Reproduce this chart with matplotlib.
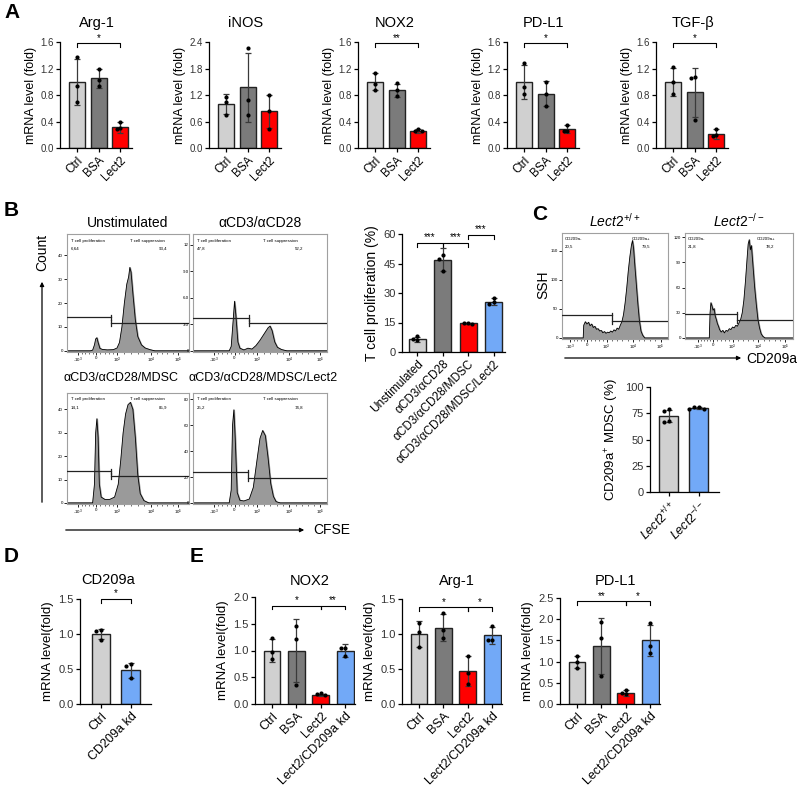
import matplotlib
matplotlib.use("Agg")
import matplotlib.pyplot as plt
import numpy as np

plt.rcParams["font.family"] = ["Liberation Sans", "DejaVu Sans"]
plt.rcParams["mathtext.fontset"] = "custom"
plt.rcParams["mathtext.rm"] = "Liberation Sans"
plt.rcParams["mathtext.it"] = "Liberation Sans:italic"
plt.rcParams["axes.linewidth"] = 0.9

W, H = 800, 794

GRAY_L = "#d0d0d0"
GRAY_D = "#7b7b7b"
RED = "#ff0000"
BLUE = "#72a9f7"

# ---------------- data: panel A ----------------
a_titles = ["Arg-1", "iNOS", "NOX2", "PD-L1", "TGF-β"]
a_groups = ["Ctrl", "BSA", "Lect2"]
a_means = [[1.00, 1.05, 0.31], [1.00, 1.37, 0.83], [1.00, 0.87, 0.25],
           [1.00, 0.82, 0.28], [1.00, 0.84, 0.21]]
a_sds = [[0.35, 0.14, 0.08], [0.22, 0.77, 0.37], [0.13, 0.10, 0.03],
         [0.26, 0.19, 0.06], [0.21, 0.37, 0.07]]
a_points = [
    [[1.38, 0.93, 0.70], [1.20, 1.02, 0.93], [0.40, 0.30, 0.28]],
    [[1.16, 1.05, 0.75], [2.26, 1.08, 0.74], [1.19, 0.84, 0.44]],
    [[1.13, 0.96, 0.87], [0.98, 0.88, 0.78], [0.28, 0.26, 0.25]],
    [[1.29, 0.92, 0.81], [1.00, 0.82, 0.64], [0.34, 0.26, 0.25]],
    [[1.22, 1.00, 0.81], [1.07, 1.06, 0.42], [0.29, 0.19, 0.18]],
]
a_ymax = [1.6, 2.4, 1.6, 1.6, 1.6]
a_ystep = [0.4, 0.6, 0.4, 0.4, 0.4]
a_sig = [[(0, 2, 1.58, "*")], [], [(0, 2, 1.58, "**")],
         [(0, 2, 1.58, "*")], [(0, 2, 1.58, "*")]]

# ---------------- data: panel B bar ----------------
b_groups = ["Unstimulated", "αCD3/αCD28", "αCD3/αCD28/MDSC", "αCD3/αCD28/MDSC/Lect2"]
b_means = [6.5, 47.0, 14.6, 25.6]
b_sds = [1.3, 5.8, 0.3, 1.7]
b_points = [[8.2, 6.4, 5.9], [49.5, 47.5, 41.0], [14.9, 14.6, 14.4], [27.6, 25.3, 24.4]]
b_sig = [(0, 1, 55.5, "***"), (1, 2, 55.5, "***"), (2, 3, 59.5, "***")]

# ---------------- data: panel B flow histograms ----------------
flow_titles = ["Unstimulated", "αCD3/αCD28", "αCD3/αCD28/MDSC", "αCD3/αCD28/MDSC/Lect2"]
flow_x = [
    [0.00, 0.19, 0.21, 0.225, 0.235, 0.245, 0.255, 0.27, 0.29, 0.33, 0.38, 0.41, 0.43,
     0.45, 0.47, 0.49, 0.505, 0.515, 0.525, 0.54, 0.56, 0.58, 0.61, 0.64, 0.68, 0.72, 1.00],
    [0.00, 0.27, 0.285, 0.30, 0.31, 0.32, 0.335, 0.35, 0.38, 0.41, 0.44, 0.47, 0.50,
     0.53, 0.56, 0.575, 0.59, 0.61, 0.63, 0.66, 0.70, 1.00],
    [0.00, 0.21, 0.225, 0.235, 0.245, 0.255, 0.265, 0.28, 0.31, 0.35, 0.39, 0.42, 0.44,
     0.46, 0.48, 0.50, 0.52, 0.54, 0.56, 0.58, 0.60, 0.63, 0.67, 1.00],
    [0.00, 0.27, 0.285, 0.295, 0.305, 0.315, 0.33, 0.35, 0.38, 0.42, 0.45, 0.48, 0.50,
     0.52, 0.54, 0.56, 0.58, 0.60, 0.62, 0.65, 1.00],
]
flow_y = [
    [0, 0, 0.3, 2.5, 5.0, 5.5, 3.5, 1.0, 0.6, 0.4, 0.5, 1.2, 3.5, 10, 20, 28, 31, 35,
     33, 24, 13, 6, 2.5, 1.2, 0.5, 0, 0],
    [0, 0, 0.5, 3.5, 5.6, 4.0, 1.0, 0.3, 0.1, 0.3, 0.2, 0.6, 1.2, 1.9, 2.6, 2.8, 2.3,
     1.0, 0.4, 0.15, 0, 0],
    [0, 0, 8, 30, 36, 28, 8, 2.5, 1.5, 1.5, 2.5, 8, 18, 30, 38, 42, 43, 40, 28, 12, 4,
     1, 0, 0],
    [0, 0, 10, 60, 72, 50, 8, 2, 1.5, 3, 12, 35, 50, 56, 52, 35, 15, 5, 1, 0, 0],
]
flow_ymax = [49, 13.2, 47, 85]
flow_yticks = [[0, 10, 20, 30, 40], [0, 3, 6, 9, 12], [0, 10, 20, 30, 40], [0, 20, 40, 60, 80]]
flow_yticklabels = [["0", "10", "20", "30", "40"], ["0", "3.0", "6.0", "9.0", "12"],
                    ["0", "10", "20", "30", "40"], ["0", "20", "40", "60", "80"]]
flow_gates = [(14, 11.6, 0.36), (3.7, 3.1, 0.42), (13.5, 11.4, 0.36), (23.7, 19, 0.41)]
flow_left_val = ["6,64", "47,8", "14,1", "25,2"]
flow_right_val = ["93,4", "52,2", "85,9", "74,8"]

# ---------------- data: panel C ----------------
c_titles = [r"$\mathit{Lect2}^{+/+}$", r"$\mathit{Lect2}^{-/-}$"]
c_x = [
    [0.00, 0.20, 0.205, 0.22, 0.235, 0.25, 0.265, 0.28, 0.295, 0.31, 0.325, 0.34, 0.355,
     0.37, 0.385, 0.40, 0.415, 0.43, 0.445, 0.46, 0.475, 0.49, 0.505, 0.52, 0.535, 0.55,
     0.565, 0.58, 0.595, 0.61, 0.625, 0.64, 0.655, 0.665, 0.675, 0.685, 0.70, 0.715,
     0.73, 0.745, 0.76, 0.78, 1.00],
    [0.00, 0.225, 0.232, 0.24, 0.25, 0.26, 0.27, 0.28, 0.29, 0.30, 0.31, 0.32, 0.335,
     0.35, 0.365, 0.38, 0.395, 0.41, 0.425, 0.44, 0.455, 0.47, 0.485, 0.50, 0.515, 0.53,
     0.545, 0.56, 0.575, 0.585, 0.595, 0.605, 0.615, 0.63, 0.645, 0.66, 0.675, 0.69,
     0.705, 0.72, 0.74, 1.00],
]
c_y = [
    [0, 0, 22, 28, 24, 27, 21, 24, 18, 20, 15, 16, 12, 13, 9, 11, 8, 10, 9, 12, 10, 14,
     12, 17, 15, 22, 28, 40, 60, 85, 115, 140, 160, 168, 155, 130, 95, 60, 30, 12, 5, 0, 0],
    [0, 0, 30, 42, 38, 33, 35, 26, 22, 17, 14, 10, 7, 9, 6, 9, 8, 11, 10, 13, 12, 15, 14,
     18, 22, 30, 45, 68, 95, 112, 117, 105, 110, 85, 60, 40, 22, 12, 5, 2, 0, 0],
]
c_ymax = [181, 125]
c_yticks = [[0, 50, 100, 150], [0, 30, 60, 90, 120]]
c_gates = [(39, 29, 0.475), (28, 21, 0.485)]
c_left_val = ["20,5", "21,8"]
c_right_val = ["79,5", "78,2"]

c_groups = [r"$\mathit{Lect2}^{+/+}$", r"$\mathit{Lect2}^{-/-}$"]
c_means = [72.5, 80.0]
c_sds = [6.0, 1.2]
c_points = [[79, 77.5, 67.5, 66.5], [81, 80.5, 79.5, 79]]

# ---------------- data: panel D ----------------
d_groups = ["Ctrl", "CD209a kd"]
d_means = [1.00, 0.48]
d_sds = [0.07, 0.11]
d_points = [[1.06, 1.05, 0.92], [0.57, 0.55, 0.37]]

# ---------------- data: panel E ----------------
e_titles = ["NOX2", "Arg-1", "PD-L1"]
e_groups = ["Ctrl", "BSA", "Lect2", "Lect2/CD209a kd"]
e_means = [[1.00, 1.00, 0.17, 1.00], [1.00, 1.09, 0.47, 0.98], [1.00, 1.37, 0.26, 1.50]]
e_sds = [[0.22, 0.59, 0.02, 0.13], [0.18, 0.19, 0.21, 0.12], [0.14, 0.66, 0.08, 0.37]]
e_points = [
    [[1.24, 0.98, 0.84], [1.45, 1.21, 0.35], [0.20, 0.18, 0.17], [1.05, 1.04, 0.90]],
    [[1.16, 1.03, 0.81], [1.30, 1.06, 0.95], [0.69, 0.44, 0.29], [1.12, 0.92, 0.91]],
    [[1.14, 1.00, 0.86], [1.93, 1.55, 0.66], [0.34, 0.27, 0.23], [1.92, 1.37, 1.20]],
]
e_ymax = [2.0, 1.5, 2.5]
e_ystep = [0.5, 0.5, 0.5]
e_sig = [[(0, 2, 1.84, "*"), (2, 3, 1.84, "**")],
         [(0, 2, 1.38, "*"), (2, 3, 1.38, "*")],
         [(0, 2, 2.42, "**"), (2, 3, 2.42, "*")]]

colors3 = [GRAY_L, GRAY_D, RED]
colors4 = [GRAY_L, GRAY_D, RED, BLUE]

fig = plt.figure(figsize=(W / 100, H / 100), dpi=100)


def add_ax(l, t, r, b):
    return fig.add_axes([l / W, 1 - b / H, (r - l) / W, (b - t) / H])


def ftext(x, y, s, **kw):
    fig.text(x / W, 1 - y / H, s, **kw)


def swarm(vals, span):
    offs = []
    placed = []
    for v in vals:
        off = 0.0
        close = [p for p in placed if abs(p[0] - v) < span]
        if close:
            used = [p[1] for p in close]
            for cand in [0.0, -0.16, 0.16, -0.32, 0.32]:
                if cand not in used:
                    off = cand
                    break
        placed.append((v, off))
        offs.append(off)
    return offs


def bar_panel(ax, labels, means, sds, pts, colors, ymax, yticks, fmt, width, xlim,
              sig=(), tick_fs=7, lab_fs=8):
    x = np.arange(len(means))
    ax.bar(x, means, width, color=colors, edgecolor="#222222", linewidth=1.0, zorder=2)
    ax.errorbar(x, means, yerr=sds, fmt="none", ecolor="#3a3a3a", elinewidth=0.9,
                capsize=2.5, capthick=0.9, zorder=3)
    for i, p in enumerate(pts):
        offs = swarm(p, ymax * 0.035)
        ax.scatter(x[i] + np.array(offs), p, s=9, color="black", zorder=4, linewidths=0)
    ax.set_xlim(*xlim)
    ax.set_ylim(0, ymax)
    ax.set_yticks(yticks)
    ax.set_yticklabels([fmt.format(v) for v in yticks], fontsize=tick_fs, color="#333333")
    ax.set_xticks(x)
    ax.set_xticklabels(labels, rotation=45, ha="right", rotation_mode="anchor",
                       fontsize=lab_fs)
    ax.spines["top"].set_visible(False)
    ax.spines["right"].set_visible(False)
    ax.tick_params(axis="both", length=3, width=0.9, pad=1.5)
    h = ymax * 0.035
    for x1, x2, y, s in sig:
        ax.plot([x1, x1, x2, x2], [y - h, y, y, y - h], color="black", lw=0.8,
                clip_on=False)
        ax.text((x1 + x2) / 2, y + ymax * 0.005, s, ha="center", va="bottom",
                fontsize=7, clip_on=False)


def flow_panel(ax, xs, ys, ymax, yticks, yticklabels, gates, xticks, lt, lv, rt, rv,
               rx=0.52, rvx=0.82):
    ax.fill_between(xs, ys, color="#9a9a9a", zorder=1)
    ax.plot(xs, ys, color="black", lw=0.6, zorder=2)
    ax.set_xlim(0, 1)
    ax.set_ylim(-ymax * 0.01, ymax)
    for s in ax.spines.values():
        s.set_color("#a0a0a0")
        s.set_linewidth(0.8)
    ax.set_yticks(yticks)
    ax.set_yticklabels(yticklabels, fontsize=3.2)
    ax.set_xticks(xticks)
    ax.set_xticklabels(["-10$^3$", "0", "10$^3$", "10$^4$", "10$^5$"], fontsize=3.2)
    minor = []
    for a, b in zip(xticks[:-1], xticks[1:]):
        minor += list(np.linspace(a, b, 6)[1:-1])
    ax.set_xticks(minor, minor=True)
    ax.tick_params(axis="both", length=2, width=0.6, pad=1, color="black")
    ax.tick_params(axis="x", which="minor", length=1.2, width=0.4)
    gl, gr, split = gates
    d = ymax * 0.025
    ax.plot([0, split], [gl, gl], color="#222222", lw=0.9, zorder=3)
    ax.plot([split, split], [gl - d, gl + d], color="#222222", lw=0.9, zorder=3)
    ax.plot([split, 1], [gr, gr], color="#222222", lw=0.9, zorder=3)
    ax.plot([split, split], [gr - d, gr + d], color="#222222", lw=0.9, zorder=3)
    ax.text(0.03, 0.96, lt, transform=ax.transAxes, fontsize=3.2, va="top")
    ax.text(0.03, 0.89, lv, transform=ax.transAxes, fontsize=3.2, va="top")
    ax.text(rx, 0.96, rt, transform=ax.transAxes, fontsize=3.2, va="top")
    ax.text(rvx, 0.89, rv, transform=ax.transAxes, fontsize=3.2, va="top", ha="right")


# ---------------- panel A ----------------
ftext(4, 12, "A", fontsize=15, fontweight="bold", va="center")
for i in range(5):
    left = 60 + 149 * i
    ax = add_ax(left, 42, left + 72, 148)
    ticks = list(np.arange(0, a_ymax[i] + 1e-9, a_ystep[i]))
    bar_panel(ax, a_groups, a_means[i], a_sds[i], a_points[i], colors3, a_ymax[i], ticks,
              "{:.1f}", 0.75, (-0.8, 2.55), a_sig[i], tick_fs=7, lab_fs=8.5)
    ax.set_ylabel("mRNA level (fold)", fontsize=9, labelpad=2)
    ftext(left + 37, 23, a_titles[i], fontsize=10.5, ha="center", va="center")

# ---------------- panel B ----------------
ftext(4, 211, "B", fontsize=15, fontweight="bold", va="center")
flow_boxes = [(67, 234, 189, 352), (193, 234, 327, 352), (67, 393, 189, 504),
              (193, 393, 327, 504)]
flow_xt = [[0.09, 0.24, 0.41, 0.69, 0.91], [0.16, 0.31, 0.48, 0.72, 0.95],
           [0.09, 0.24, 0.41, 0.69, 0.91], [0.16, 0.31, 0.48, 0.72, 0.95]]
title_pos = [(128, 223, 10), (260, 223, 10), (121, 378, 9.0), (263, 378, 9.0)]
for i, (l, t, r, b) in enumerate(flow_boxes):
    ax = add_ax(l, t, r, b)
    flow_panel(ax, flow_x[i], flow_y[i], flow_ymax[i], flow_yticks[i],
               flow_yticklabels[i], flow_gates[i], flow_xt[i], "T cell proliferation",
               flow_left_val[i], "T cell suppression", flow_right_val[i])
    tx, ty, tfs = title_pos[i]
    ftext(tx, ty, flow_titles[i], fontsize=tfs, ha="center", va="center")

ftext(42, 252, "Count", fontsize=10, rotation=90, ha="center", va="center")
fig.add_artist(matplotlib.patches.FancyArrowPatch(
    (42 / W, 1 - 505 / H), (42 / W, 1 - 279 / H), transform=fig.transFigure,
    arrowstyle="-|>", mutation_scale=6, lw=0.9, color="black"))
fig.add_artist(matplotlib.patches.FancyArrowPatch(
    (63 / W, 1 - 530 / H), (307 / W, 1 - 530 / H), transform=fig.transFigure,
    arrowstyle="-|>", mutation_scale=6, lw=0.9, color="black"))
ftext(313, 530, "CFSE", fontsize=10, va="center")

ax = add_ax(402, 234, 505, 352)
bar_panel(ax, b_groups, b_means, b_sds, b_points, colors4, 60, [0, 15, 30, 45, 60],
          "{:.0f}", 0.67, (-0.6, 3.45), b_sig, tick_fs=8, lab_fs=8.5)
ax.set_ylabel("T cell proliferation (%)", fontsize=10, labelpad=3)

# ---------------- panel C ----------------
ftext(532, 214, "C", fontsize=15, fontweight="bold", va="center")
c_boxes = [(562, 233, 668, 339), (685, 233, 793, 339)]
c_xt = [[0.08, 0.24, 0.42, 0.67, 0.93], [0.12, 0.26, 0.44, 0.68, 0.93]]
for i, (l, t, r, b) in enumerate(c_boxes):
    ax = add_ax(l, t, r, b)
    flow_panel(ax, c_x[i], c_y[i], c_ymax[i], c_yticks[i],
               [str(v) for v in c_yticks[i]], c_gates[i], c_xt[i], "CD209a-",
               c_left_val[i], "CD209a+", c_right_val[i], rx=0.66, rvx=0.83)
    ftext((l + r) / 2, 221, c_titles[i], fontsize=10, ha="center", va="center")

ftext(543, 285, "SSH", fontsize=10, rotation=90, ha="center", va="center")
fig.add_artist(matplotlib.patches.FancyArrowPatch(
    (562 / W, 1 - 358 / H), (744 / W, 1 - 358 / H), transform=fig.transFigure,
    arrowstyle="-|>", mutation_scale=6, lw=0.9, color="black"))
ftext(746, 359, "CD209a", fontsize=10, va="center")

ax = add_ax(650, 387, 719, 492)
bar_panel(ax, c_groups, c_means, c_sds, c_points, [GRAY_L, BLUE], 100,
          [0, 25, 50, 75, 100], "{:.0f}", 0.63, (-0.63, 1.67), tick_fs=8, lab_fs=9)
ax.set_ylabel("CD209a$^{+}$ MDSC (%)", fontsize=9.5, labelpad=3)

# ---------------- panel D ----------------
ftext(4, 557, "D", fontsize=15, fontweight="bold", va="center")
ax = add_ax(80, 599, 151, 704)
bar_panel(ax, d_groups, d_means, d_sds, d_points, [GRAY_L, BLUE], 1.5,
          [0, 0.5, 1.0, 1.5], "{:.1f}", 0.63, (-0.7, 1.67), [(0, 1, 1.5, "*")],
          tick_fs=8, lab_fs=9)
ax.set_ylabel("mRNA level(fold)", fontsize=9.5, labelpad=3)
ftext(108, 580, "CD209a", fontsize=10.5, ha="center", va="center")

# ---------------- panel E ----------------
ftext(190, 557, "E", fontsize=15, fontweight="bold", va="center")
e_lefts = [255, 402, 560]
e_tops = [597, 599, 598]
for i in range(3):
    l = e_lefts[i]
    ax = add_ax(l, e_tops[i], l + 100, 704)
    ticks = list(np.arange(0, e_ymax[i] + 1e-9, e_ystep[i]))
    bar_panel(ax, e_groups, e_means[i], e_sds[i], e_points[i], colors4, e_ymax[i],
              ticks, "{:.1f}", 0.69, (-0.7, 3.4), e_sig[i], tick_fs=8, lab_fs=9)
    ax.set_ylabel("mRNA level(fold)", fontsize=9.5, labelpad=3)
    ftext(l + 55, 581, e_titles[i], fontsize=10.5, ha="center", va="center")

fig.savefig("out.png", dpi=100)
